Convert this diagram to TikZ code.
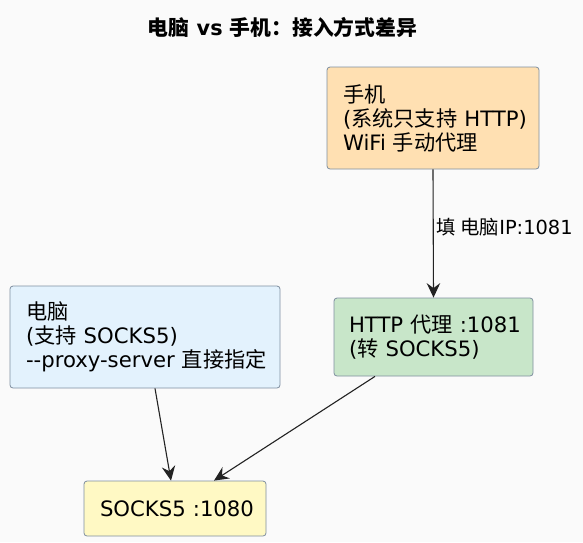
\documentclass[tikz,border=0pt]{standalone}
\usepackage{fontspec}
\setmainfont{DejaVu Sans}
\newfontfamily\cjk{Noto Sans CJK SC}
\usetikzlibrary{arrows.meta}
\definecolor{bgc}{HTML}{FAFAFA}
\definecolor{bordc}{HTML}{7F8FA0}
\definecolor{phonec}{HTML}{FFE0B2}
\definecolor{httpc}{HTML}{C8E6C9}
\definecolor{pcc}{HTML}{E3F2FD}
\definecolor{sockc}{HTML}{FFF9C4}
\definecolor{arrc}{HTML}{222222}
\newcommand{\myline}[1]{\makebox[0pt][l]{#1}}
\tikzset{
  box/.style={draw=bordc, line width=0.8pt, rounded corners=3pt, align=left,
    inner xsep=0pt, inner ysep=0pt, anchor=center,
    font=\fontsize{21.2}{24}\selectfont},
  conn/.style={draw=arrc, line width=1.1pt, -{Stealth[length=14.5pt,width=13.5pt,inset=5pt]}},
  lbl/.style={font=\fontsize{19.4}{22}\selectfont, inner sep=0pt, anchor=west}
}
\begin{document}
\begin{tikzpicture}[x=1pt,y=-1pt]
\fill[bgc] (0,0) rectangle (583,542);
\useasboundingbox (0,0) rectangle (583,542);
\node[font=\fontsize{20.8}{24}\selectfont\bfseries] (title) at (282.5,27) {{\cjk 电脑} vs {\cjk 手机：接入方式差异}};
\node[box, fill=phonec, minimum width=212pt, minimum height=102pt, text width=180pt] (phone) at (433,118)
  {\myline{{\cjk 手机}}\\\myline{({\cjk 系统只支持} HTTP)}\\\myline{WiFi {\cjk 手动代理}}};
\node[box, fill=httpc, minimum width=199pt, minimum height=78pt, text width=169pt] (http) at (433.5,337)
  {\myline{HTTP {\cjk 代理} :1081}\\\myline{({\cjk 转} SOCKS5)}};
\node[box, fill=pcc, minimum width=270pt, minimum height=102pt, text width=238pt] (pc) at (145,337)
  {\myline{{\cjk 电脑}}\\\myline{({\cjk 支持} SOCKS5)}\\\myline{-{}-proxy-server {\cjk 直接指定}}};
\node[box, fill=sockc, minimum width=182pt, minimum height=55pt, text width=150pt] (socks) at (175,508.5)
  {\myline{SOCKS5 :1080}};
\draw[conn] (phone.south) -- node[lbl, pos=0.45, xshift=3pt] (l1) {{\cjk 填 电脑}IP:1081} (http.north);
\draw[conn] ([xshift=10pt]pc.south) -- ([xshift=-4pt]socks.north);
\draw[conn] ([xshift=-58.5pt]http.south) -- ([xshift=39pt]socks.north);
\end{tikzpicture}
\end{document}
